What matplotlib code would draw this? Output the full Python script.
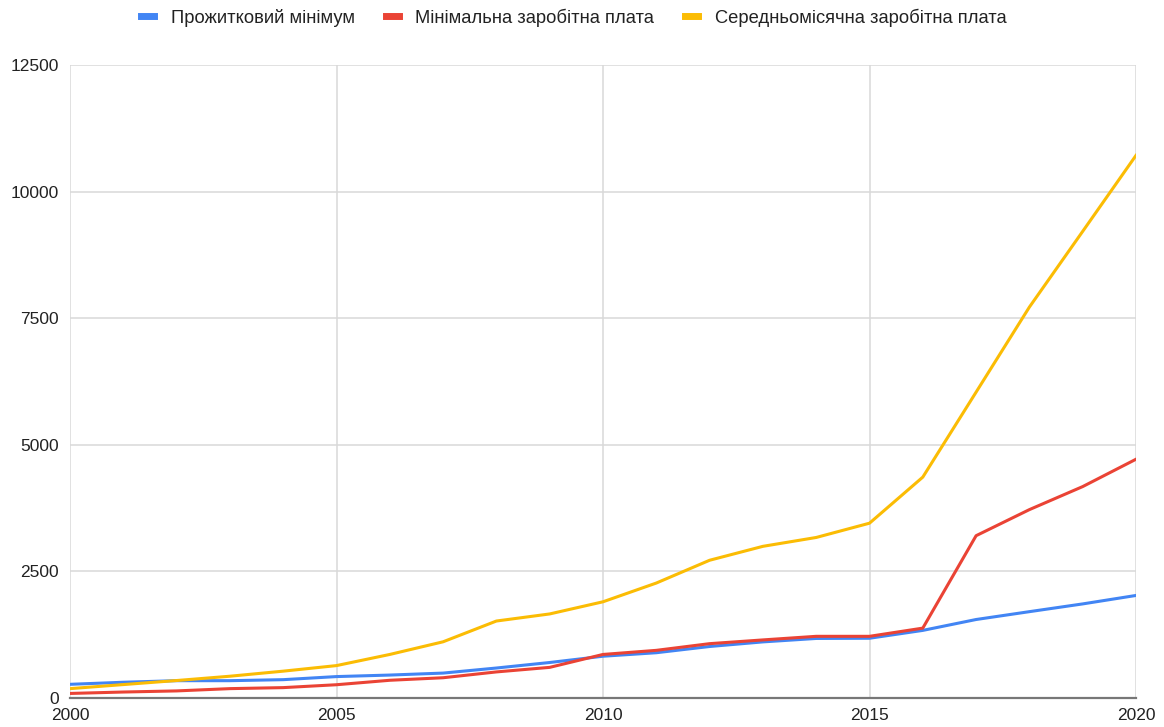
import matplotlib.pyplot as plt
from matplotlib.lines import Line2D

years = list(range(2000, 2021))
living_wage = [270, 311, 342, 342, 362, 423, 453, 492, 592, 701, 825,
               894, 1017, 1108, 1176, 1180, 1335, 1550, 1705, 1858, 2025]
min_wage = [90, 118, 140, 185, 205, 262, 350, 400, 515, 605, 860,
            941, 1073, 1147, 1218, 1218, 1380, 3205, 3720, 4175, 4715]
avg_wage = [185, 265, 345, 430, 530, 640, 860, 1110, 1520, 1660, 1900,
            2270, 2720, 2995, 3170, 3452, 4362, 6040, 7720, 9215, 10715]

labels = ["Прожитковий мінімум", "Мінімальна заробітна плата",
          "Середньомісячна заробітна плата"]
colors = ["#4285F4", "#EA4335", "#FBBC04"]

plt.rcParams["font.family"] = ["Liberation Sans", "DejaVu Sans"]

fig = plt.figure(figsize=(11.64, 7.27), dpi=100)
ax = fig.add_axes([70 / 1164, 29 / 727, 1066 / 1164, 633 / 727])

for series, color in zip([living_wage, min_wage, avg_wage], colors):
    ax.plot(years, series, color=color, linewidth=2.2, solid_joinstyle="round")

ax.set_xlim(2000, 2020)
ax.set_ylim(0, 12500)
ax.set_xticks([2000, 2005, 2010, 2015, 2020])
ax.set_yticks([0, 2500, 5000, 7500, 10000, 12500])
ax.grid(True, color="#d9d9d9", linewidth=1.1)
ax.set_axisbelow(True)
for side in ["top", "right", "left"]:
    ax.spines[side].set_visible(False)
ax.spines["bottom"].set_color("#777777")
ax.spines["bottom"].set_linewidth(1.6)
ax.tick_params(length=0, labelsize=12.5, colors="#222222")
ax.tick_params(axis="x", pad=7)
ax.tick_params(axis="y", pad=8)

handles = [Line2D([0], [0], color=c, linewidth=5) for c in colors]
fig.legend(handles, labels, loc="center", bbox_to_anchor=(0.493, 0.976), ncol=3,
           frameon=False, fontsize=13.2, handlelength=0.7, handletextpad=0.9,
           columnspacing=1.7, labelcolor="#222222")

fig.savefig("out.png", dpi=100, facecolor="white")
